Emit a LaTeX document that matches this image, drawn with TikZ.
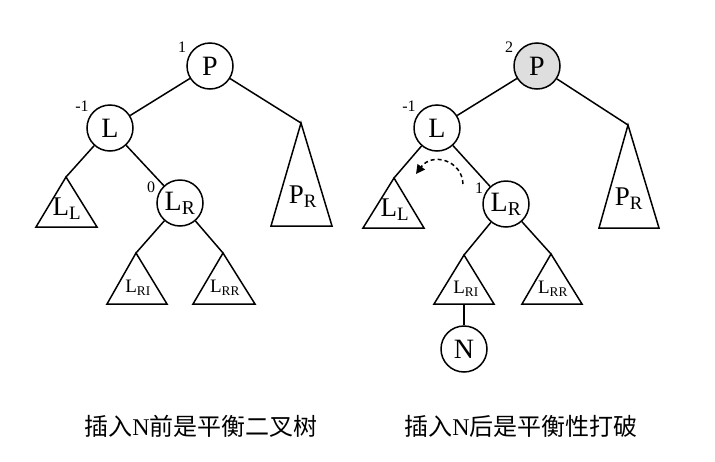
\documentclass[tikz,border=0pt]{standalone}
\usepackage{fontspec}
\setmainfont{Liberation Serif}
\newfontfamily\cjk{Noto Sans CJK SC}
\usetikzlibrary{arrows.meta}
\tikzset{
  tnode/.style={circle,draw,line width=1.5pt,minimum size=46pt,inner sep=0pt,font=\fontsize{28}{28}\selectfont},
  tri/.style={draw,line width=1.5pt,line join=miter},
  conn/.style={line width=1.5pt},
  bal/.style={font=\fontsize{16}{16}\selectfont,inner sep=0pt},
  tlab/.style={inner sep=0pt,font=\fontsize{27}{27}\selectfont},
  slab/.style={inner sep=0pt,font=\fontsize{19}{19}\selectfont},
  captxt/.style={inner sep=0pt,font=\fontsize{24}{24}\selectfont},
}
\begin{document}
\begin{tikzpicture}[x=1pt,y=-1pt]
\useasboundingbox[fill=white] (0,0) rectangle (715,461);
% ===== left tree =====
\node[tnode] (P1) at (210,66) {P};
\node[bal] (b1) at (182,47) {1};
\node[tnode] (L1) at (110,128) {L};
\node[bal] (b2) at (82,106) {-1};
\node[tnode] (LR1) at (180,203) {L\textsubscript{R}};
\node[bal] (b3) at (151,187) {0};
\coordinate (LLa1) at (66,177);
\coordinate (PRa1) at (301,123);
\coordinate (LRla1) at (136,253);
\coordinate (LRRa1) at (223,253);
\draw[tri] (LLa1) -- (97,227) -- (36,227) -- cycle;
\draw[tri] (PRa1) -- (332,226) -- (271,226) -- cycle;
\draw[tri] (LRla1) -- (167,304) -- (107,304) -- cycle;
\draw[tri] (LRRa1) -- (255,304) -- (193,304) -- cycle;
\node[tlab] (tLL1) at (67,209) {L\textsubscript{L}};
\node[tlab] (tPR1) at (303,197) {P\textsubscript{R}};
\node[slab] (tLRl1) at (138,288) {L\textsubscript{RI}};
\node[slab] (tLRR1) at (225,288) {L\textsubscript{RR}};
\draw[conn] (P1) -- (L1);
\draw[conn] (P1) -- (PRa1);
\draw[conn] (L1) -- (LLa1);
\draw[conn] (L1) -- (LR1);
\draw[conn] (LR1) -- (LRla1);
\draw[conn] (LR1) -- (LRRa1);
% ===== right tree =====
\node[tnode,fill=black!13] (P2) at (537,66) {P};
\node[bal] (c1) at (509,47) {2};
\node[tnode] (L2) at (437,128) {L};
\node[bal] (c2) at (409,106) {-1};
\node[tnode] (LR2) at (506,204) {L\textsubscript{R}};
\node[bal] (c3) at (479,188) {1};
\coordinate (LLa2) at (394,178);
\coordinate (PRa2) at (628,125);
\coordinate (LRla2) at (464,255);
\coordinate (LRRa2) at (551,254);
\coordinate (LRlb2) at (464,304);
\draw[tri] (LLa2) -- (424,228) -- (363,228) -- cycle;
\draw[tri] (PRa2) -- (659,228) -- (599,228) -- cycle;
\draw[tri] (LRla2) -- (494,304) -- (434,304) -- cycle;
\draw[tri] (LRRa2) -- (582,304) -- (522,304) -- cycle;
\node[tlab] (tLL2) at (395,210) {L\textsubscript{L}};
\node[tlab] (tPR2) at (629,199) {P\textsubscript{R}};
\node[slab] (tLRl2) at (466,289) {L\textsubscript{RI}};
\node[slab] (tLRR2) at (553,289) {L\textsubscript{RR}};
\node[tnode] (N2) at (464,349) {N};
\draw[conn] (P2) -- (L2);
\draw[conn] (P2) -- (PRa2);
\draw[conn] (L2) -- (LLa2);
\draw[conn] (L2) -- (LR2);
\draw[conn] (LR2) -- (LRla2);
\draw[conn] (LR2) -- (LRRa2);
\draw[conn] (LRlb2) -- (N2);
\coordinate (arS) at (463,184);
\coordinate (arE) at (416,174);
\draw[line width=1.5pt,dash pattern=on 4pt off 3pt,-{Triangle[length=9pt,width=9pt]}] (arS) .. controls (462,160) and (432,152) .. (arE);
% ===== captions =====
\node[captxt] (cap1) at (201,426) {{\cjk 插入}N{\cjk 前是平衡二叉树}};
\node[captxt] (cap2) at (521,426) {{\cjk 插入}N{\cjk 后是平衡性打破}};
\end{tikzpicture}
\end{document}
